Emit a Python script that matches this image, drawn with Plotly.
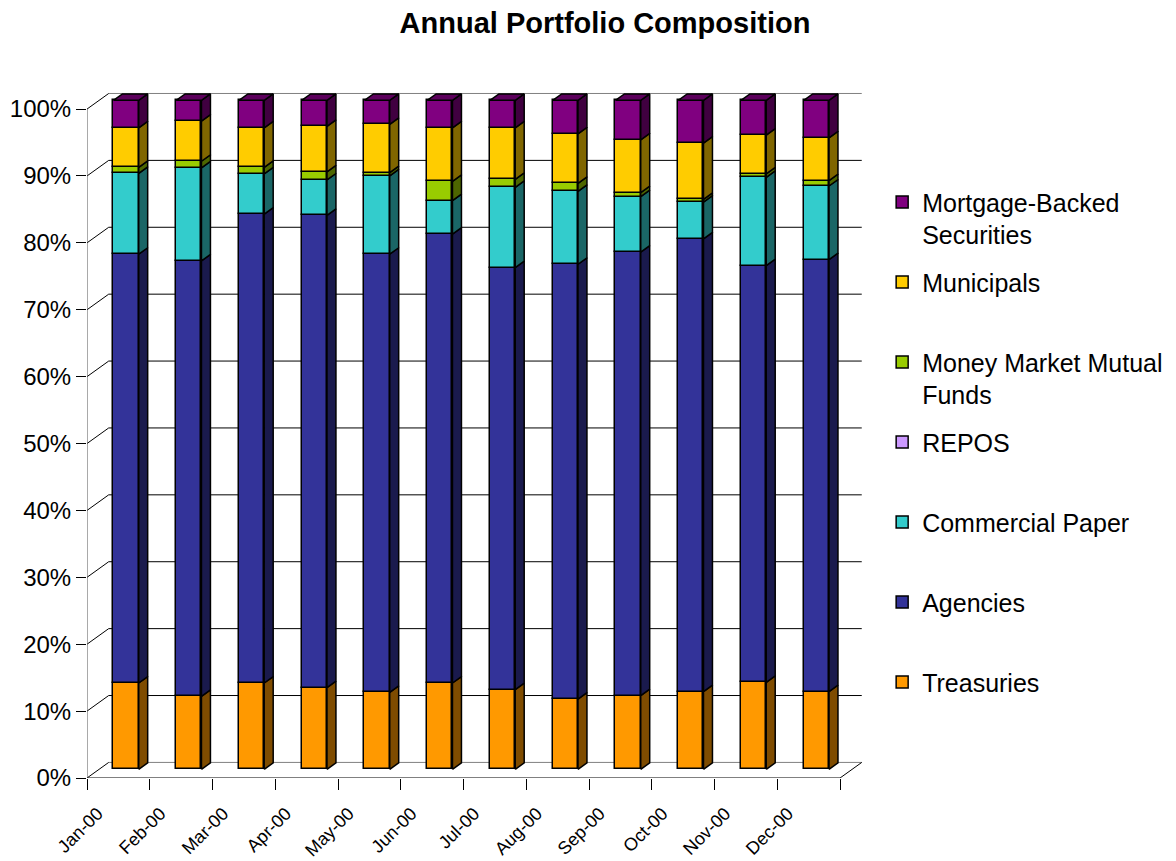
import plotly.graph_objects as go

# ---------------- data (percent of portfolio) ----------------
months = ["Jan-00", "Feb-00", "Mar-00", "Apr-00", "May-00", "Jun-00",
          "Jul-00", "Aug-00", "Sep-00", "Oct-00", "Nov-00", "Dec-00"]

treasuries = [12.9, 10.9, 12.9, 12.2, 11.5, 12.9, 11.9, 10.5, 11.0, 11.6, 13.0, 11.6]
agencies   = [64.1, 65.1, 70.1, 70.6, 65.5, 67.1, 63.1, 65.0, 66.3, 67.7, 62.3, 64.6]
commercial = [12.1, 13.9, 6.0, 5.3, 11.7, 5.0, 12.0, 10.9, 8.3, 5.5, 13.2, 11.0]
repos      = [0, 0, 0, 0, 0, 0, 0, 0, 0, 0, 0, 0]
mmmf       = [0.9, 1.0, 1.0, 1.2, 0.5, 2.9, 1.2, 1.2, 0.6, 0.4, 0.5, 0.8]
municipals = [5.9, 6.0, 5.9, 6.8, 7.2, 8.0, 7.7, 7.4, 7.9, 8.4, 5.8, 6.4]
mbs        = [4.1, 3.1, 4.1, 3.9, 3.6, 4.1, 4.1, 5.0, 5.9, 6.4, 5.2, 5.6]

y_ticks = [0, 10, 20, 30, 40, 50, 60, 70, 80, 90, 100]
y_ticktext = [f"{v}%" for v in y_ticks]

series = [
    ("Treasuries", treasuries, "#FF9900", "#7F4C00", "Treasuries<br>&nbsp;"),
    ("Agencies", agencies, "#333399", "#1A1A4D", "Agencies<br>&nbsp;"),
    ("Commercial Paper", commercial, "#33CCCC", "#1A6666", "Commercial Paper<br>&nbsp;"),
    ("REPOS", repos, "#CC99FF", "#66507F", "REPOS<br>&nbsp;"),
    ("Money Market Mutual Funds", mmmf, "#99CC00", "#4D6600", "Money Market Mutual<br>Funds"),
    ("Municipals", municipals, "#FFCC00", "#806600", "Municipals<br>&nbsp;"),
    ("Mortgage-Backed Securities", mbs, "#800080", "#400040", "Mortgage-Backed<br>Securities"),
]
top_face_color = "#5C005C"

# ---------------- geometry (pseudo-3D) ----------------
X_MAX = 12.35          # x range (category units)
Y_MAX = 103.0          # y range (percent)
WALL_DU, WALL_DV = 0.346, 2.33     # front plane -> back wall offset
BAR_DV = 1.30                       # front plane -> bar front face (vertical)
BAR_L, BAR_R = 0.421, 0.824         # bar front face extent within a category
SIDE_DU, SIDE_DV = 0.143, 0.97      # bar depth
EDGE = 1.5

fig = go.Figure()

# front faces (bars)
lower = [0.0] * len(months)
tops = []
n_series = len(series)
for k, (name, vals, col, dark, label) in enumerate(series):
    fig.add_trace(go.Bar(
        x=[i + (BAR_L + BAR_R) / 2 for i in range(len(months))],
        y=vals,
        base=[lo + BAR_DV for lo in lower],
        width=BAR_R - BAR_L,
        name=label,
        legendgroup=name,
        legendrank=n_series - k,
        marker=dict(color=col, line=dict(color="black", width=EDGE)),
        hoverinfo="skip",
    ))
    segs = []
    for i, v in enumerate(vals):
        segs.append((lower[i], lower[i] + v))
    tops.append(segs)
    lower = [lo + v for lo, v in zip(lower, vals)]

# side faces
for (name, vals, col, dark, label), segs in zip(series, tops):
    xs, ys = [], []
    for i, (b, t) in enumerate(segs):
        if t - b <= 0:
            continue
        xr = i + BAR_R
        b += BAR_DV
        t += BAR_DV
        xs += [xr, xr + SIDE_DU, xr + SIDE_DU, xr, xr, None]
        ys += [b, b + SIDE_DV, t + SIDE_DV, t, b, None]
    if xs:
        fig.add_trace(go.Scatter(
            x=xs, y=ys, mode="lines", fill="toself", fillcolor=dark,
            line=dict(color="black", width=EDGE), showlegend=False, hoverinfo="skip",
        ))

# top faces
xs, ys = [], []
for i in range(len(months)):
    T = lower[i] + BAR_DV
    xl, xr = i + BAR_L, i + BAR_R
    xs += [xl, xl + SIDE_DU, xr + SIDE_DU, xr, xl, None]
    ys += [T, T + SIDE_DV, T + SIDE_DV, T, T, None]
fig.add_trace(go.Scatter(
    x=xs, y=ys, mode="lines", fill="toself", fillcolor=top_face_color,
    line=dict(color="black", width=EDGE), showlegend=False, hoverinfo="skip",
))

# ---------------- walls / grid (decoration) ----------------
shapes = []
n = len(months)
for v in y_ticks:
    col = "#808080" if v in (0, 100) else "black"
    shapes.append(dict(type="line", xref="x", yref="y", layer="below",
                       x0=WALL_DU, y0=v + WALL_DV, x1=n + WALL_DU, y1=v + WALL_DV,
                       line=dict(color=col, width=1)))
    shapes.append(dict(type="line", xref="x", yref="y", layer="below",
                       x0=0, y0=v, x1=WALL_DU, y1=v + WALL_DV,
                       line=dict(color="black", width=1)))
shapes.append(dict(type="line", xref="x", yref="y", layer="below",
                   x0=0, y0=0, x1=n, y1=0, line=dict(color="black", width=1)))
shapes.append(dict(type="line", xref="x", yref="y", layer="below",
                   x0=n, y0=0, x1=n + WALL_DU, y1=WALL_DV, line=dict(color="black", width=1)))
shapes.append(dict(type="line", xref="x", yref="y", layer="below",
                   x0=0, y0=0, x1=0, y1=100, line=dict(color="#555555", width=1)))

FONT = "Liberation Sans, Arial, Helvetica, sans-serif"

# page body has an 8px margin, so the figure is 8px smaller than the window
fig.update_layout(
    width=1168, height=853,
    margin=dict(l=79, r=314, t=81, b=83, autoexpand=False),
    paper_bgcolor="white", plot_bgcolor="white",
    barmode="overlay", bargap=0,
    shapes=shapes,
    title=dict(text="<b>Annual Portfolio Composition</b>", x=597 / 1168, xref="container",
               xanchor="center", y=1.0, yref="container", yanchor="top",
               pad=dict(t=5),
               font=dict(family=FONT, size=29, color="black")),
    legend=dict(x=1.026, xanchor="left", y=0.869, yanchor="top",
                traceorder="grouped", tracegroupgap=12, valign="top",
                font=dict(family=FONT, size=25, color="black"),
                bgcolor="rgba(0,0,0,0)"),
    font=dict(family=FONT, color="black"),
    showlegend=True,
)

fig.update_xaxes(
    range=[0, X_MAX], showgrid=False, zeroline=False, showline=False,
    tickmode="array", tickvals=[i + 0.17 for i in range(n)], ticktext=months,
    tickangle=-45, ticks="outside", ticklen=17, tickcolor="rgba(0,0,0,0)",
    tickfont=dict(family=FONT, size=18, color="black"),
    minor=dict(tickmode="array", tickvals=list(range(n + 1)), ticks="outside",
               ticklen=11, tickcolor="black", tickwidth=1, showgrid=False),
    fixedrange=True,
)
fig.update_yaxes(
    range=[0, Y_MAX], showgrid=False, zeroline=False, showline=False,
    tickmode="array", tickvals=y_ticks, ticktext=y_ticktext,
    ticks="outside", ticklen=10, tickcolor="black",
    tickfont=dict(family=FONT, size=24, color="black"),
    fixedrange=True,
)

fig.write_html("out.html")
